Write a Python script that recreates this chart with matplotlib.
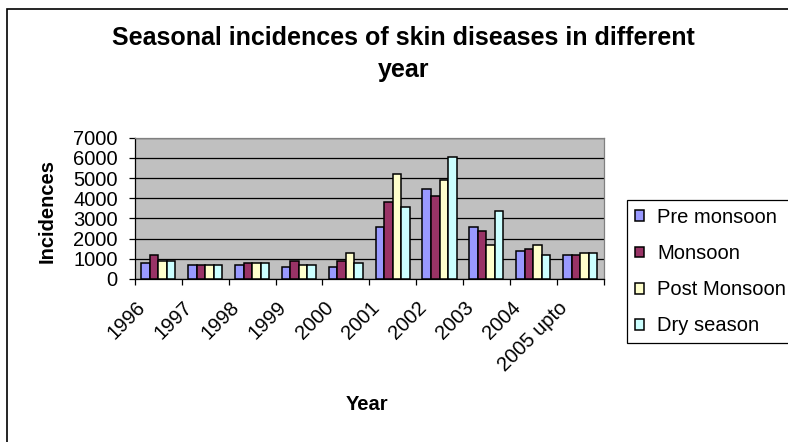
import matplotlib
matplotlib.use("Agg")
import matplotlib.pyplot as plt
from matplotlib.patches import Rectangle
from matplotlib.transforms import ScaledTranslation
import numpy as np

plt.rcParams['font.family'] = ['Liberation Sans', 'DejaVu Sans']

years = ['1996', '1997', '1998', '1999', '2000', '2001', '2002', '2003', '2004', '2005 upto']
series_names = ['Pre monsoon', 'Monsoon', 'Post Monsoon', 'Dry season']
pre_monsoon = [800, 700, 700, 600, 600, 2600, 4450, 2600, 1400, 1200]
monsoon = [1200, 700, 800, 900, 900, 3800, 4100, 2400, 1500, 1200]
post_monsoon = [900, 700, 800, 700, 1300, 5200, 4900, 1700, 1700, 1300]
dry_season = [900, 700, 800, 700, 800, 3550, 6050, 3350, 1200, 1300]
y_ticks = [0, 1000, 2000, 3000, 4000, 5000, 6000, 7000]

colors = ['#9999FF', '#993366', '#FFFFCC', '#CCFFFF']

W, H, DPI = 788, 442, 100
fig = plt.figure(figsize=(W / DPI, H / DPI), dpi=DPI)
fig.patch.set_facecolor('white')

# outer chart border (runs off the right and bottom edges)
fig.patches.append(Rectangle((7 / W, -0.1), 1.2, 1 - 9 / H + 0.1, transform=fig.transFigure,
                             fill=False, edgecolor='black', linewidth=1.2, clip_on=False))

left, right, top, bottom = 135, 603.5, 137.7, 279
ax = fig.add_axes([left / W, 1 - bottom / H, (right - left) / W, (bottom - top) / H])
ax.set_facecolor('#C0C0C0')

n = len(years)
bw = 1 / 5.5
centers = np.arange(n) + 0.5
all_series = [pre_monsoon, monsoon, post_monsoon, dry_season]
handles = []
for j, (vals, col, name) in enumerate(zip(all_series, colors, series_names)):
    b = ax.bar(centers + (j - 1.5) * bw, vals, width=bw, color=col,
               edgecolor='black', linewidth=1.1, label=name, zorder=3)
    handles.append(b)

ax.set_xlim(0, n)
ax.set_ylim(0, 7000)
ax.set_yticks(y_ticks)
ax.set_yticklabels([str(v) for v in y_ticks], fontsize=14.5)
ax.yaxis.grid(True, color='black', linewidth=0.9, zorder=0)
ax.set_axisbelow(True)
ax.tick_params(axis='y', direction='out', length=4.5, width=0.9, pad=8, colors='black')

ax.set_xticks(np.arange(n + 1))
ax.set_xticklabels([])
ax.tick_params(axis='x', direction='out', length=4, width=0.9)

for s in ['top', 'right']:
    ax.spines[s].set_color('#808080')
    ax.spines[s].set_linewidth(0.9)
for s in ['left', 'bottom']:
    ax.spines[s].set_color('black')
    ax.spines[s].set_linewidth(0.9)

# rotated category labels
offset = ScaledTranslation(-9 / DPI, -19 / DPI, fig.dpi_scale_trans)
for c, lab in zip(centers, years):
    ax.text(c, 0, lab, transform=ax.get_xaxis_transform() + offset,
            rotation=45, ha='right', va='top', fontsize=14.5)

fig.text(403.5 / W, 1 - 54 / H, 'Seasonal incidences of skin diseases in different\nyear',
         ha='center', va='center', fontsize=18, fontweight='bold', linespacing=1.45)
fig.text(47 / W, 1 - 211 / H, 'Incidences', rotation=90, ha='center', va='center',
         fontsize=14.5, fontweight='bold')
fig.text(367 / W, 1 - 405 / H, 'Year', ha='center', va='center',
         fontsize=14.5, fontweight='bold')

leg = fig.legend(handles=handles, labels=series_names, loc='upper left',
                 bbox_to_anchor=(627 / W, 1 - 200 / H), bbox_transform=fig.transFigure,
                 fontsize=14.5, frameon=True, fancybox=False, shadow=False,
                 handlelength=0.45, handleheight=0.45, handletextpad=0.65,
                 labelspacing=0.85, borderpad=0.4, borderaxespad=0)
leg.get_frame().set_edgecolor('black')
leg.get_frame().set_linewidth(0.9)
leg.get_frame().set_facecolor('white')
leg.get_frame().set_alpha(1)

fig.savefig('out.png', dpi=DPI)
